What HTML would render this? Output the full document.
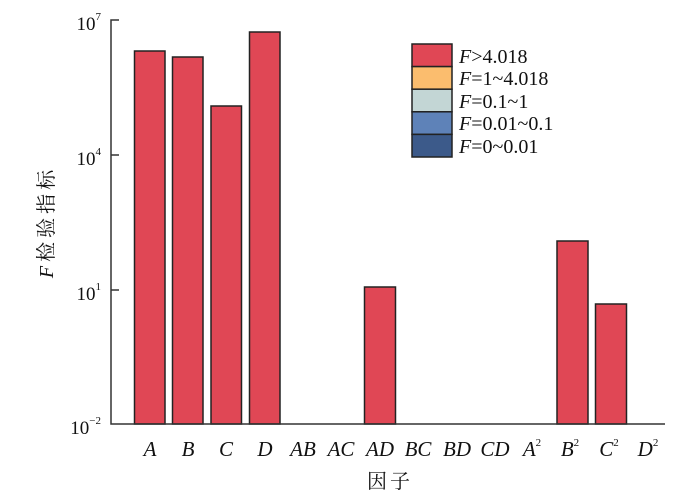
<!DOCTYPE html>
<html><head><meta charset="utf-8"><style>
body{margin:0;background:#fff;}
svg text{font-family:"Liberation Serif","Noto Serif CJK SC",serif;fill:#111;}
</style></head><body>
<svg width="700" height="492" viewBox="0 0 700 492" xmlns="http://www.w3.org/2000/svg">
<g stroke="#222" stroke-width="1.5" fill="#e04755">
<rect x="134.5" y="51" width="30.5" height="373"/>
<rect x="172.5" y="57" width="30.5" height="367"/>
<rect x="211" y="106" width="30.5" height="318"/>
<rect x="249.5" y="32" width="30.5" height="392"/>
<rect x="364.5" y="287" width="31" height="137"/>
<rect x="557" y="241" width="31" height="183"/>
<rect x="595.5" y="304" width="31" height="120"/>
</g>
<g stroke="#333" stroke-width="1.5" fill="none">
<path d="M119 20 H111 V424 H665"/>
<path d="M111 155 H119 M111 290 H119"/>
</g>
<g font-size="19">
<text x="101" y="30" text-anchor="end">10<tspan font-size="11" dy="-10">7</tspan></text>
<text x="101" y="165" text-anchor="end">10<tspan font-size="11" dy="-10">4</tspan></text>
<text x="101" y="300" text-anchor="end">10<tspan font-size="11" dy="-10">1</tspan></text>
<text x="101" y="434" text-anchor="end">10<tspan font-size="11" dy="-10">−2</tspan></text>
</g>
<g font-size="21" font-style="italic" text-anchor="middle">
<text x="150" y="456">A</text><text x="188" y="456">B</text><text x="226" y="456">C</text><text x="265" y="456">D</text>
<text x="303" y="456">AB</text><text x="341" y="456">AC</text><text x="380" y="456">AD</text><text x="418" y="456">BC</text>
<text x="457" y="456">BD</text><text x="495" y="456">CD</text>
<text x="532" y="456">A<tspan font-size="11" dy="-10" font-style="normal">2</tspan></text>
<text x="570" y="456">B<tspan font-size="11" dy="-10" font-style="normal">2</tspan></text>
<text x="609" y="456">C<tspan font-size="11" dy="-10" font-style="normal">2</tspan></text>
<text x="648" y="456">D<tspan font-size="11" dy="-10" font-style="normal">2</tspan></text>
</g>
<text x="390" y="488" font-size="20" letter-spacing="3" text-anchor="middle">因子</text>
<text transform="translate(53,222) rotate(-90)" font-size="20" letter-spacing="4" text-anchor="middle"><tspan font-style="italic">F</tspan>检验指标</text>
<g stroke="#222" stroke-width="1.5">
<rect x="412" y="44" width="40" height="22.6" fill="#e04755"/>
<rect x="412" y="66.6" width="40" height="22.6" fill="#fbbd6e"/>
<rect x="412" y="89.2" width="40" height="22.6" fill="#c3d6d5"/>
<rect x="412" y="111.8" width="40" height="22.6" fill="#5e82b8"/>
<rect x="412" y="134.4" width="40" height="22.6" fill="#3c5a8a"/>
</g>
<g font-size="20">
<text x="459" y="63"><tspan font-style="italic">F</tspan>&gt;4.018</text>
<text x="459" y="85"><tspan font-style="italic">F</tspan>=1~4.018</text>
<text x="459" y="108"><tspan font-style="italic">F</tspan>=0.1~1</text>
<text x="459" y="130"><tspan font-style="italic">F</tspan>=0.01~0.1</text>
<text x="459" y="153"><tspan font-style="italic">F</tspan>=0~0.01</text>
</g>
</svg>
</body></html>
